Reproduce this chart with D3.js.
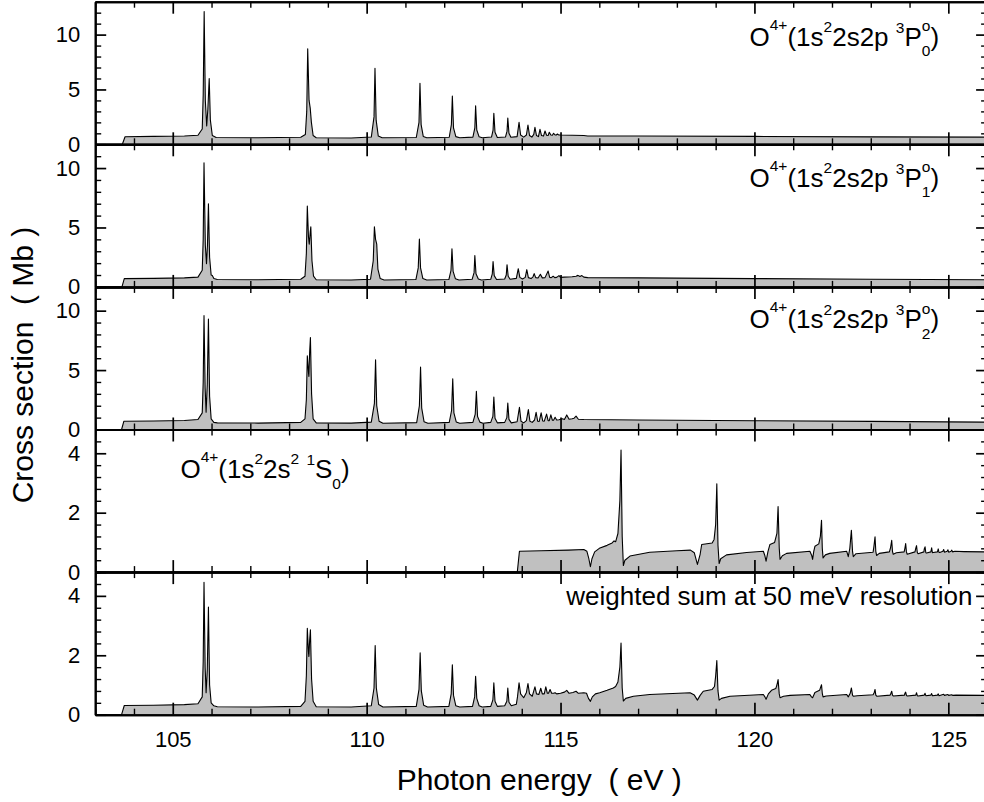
<!DOCTYPE html>
<html>
<head>
<meta charset="utf-8">
<script src="https://cdn.jsdelivr.net/npm/d3@7"></script>
<style>
  html, body { margin: 0; padding: 0; background: #fff; }
  svg { display: block; font-family: "Liberation Sans", Arial, Helvetica, sans-serif; }
  text { white-space: pre; }
</style>
</head>
<body>
<svg id="chart" width="984" height="802"></svg>
<script>
// ---- Photon energy axis ----
const energyDomain = [103, 126];
const energyMajorTicks = [105, 110, 115, 120, 125];
const energyMinorTicks = [103, 104, 106, 107, 108, 109, 111, 112, 113, 114, 116, 117, 118, 119, 121, 122, 123, 124, 126];

// ---- Cross-section axes, one per panel ----
const sigmaMax = [13, 12, 12, 4.8, 4.8];
const sigmaMajorTicks = [[0, 5, 10], [0, 5, 10], [0, 5, 10], [0, 2, 4], [0, 2, 4]];
const sigmaMinorTicks = [
  [1, 2, 3, 4, 6, 7, 8, 9, 11, 12, 13],
  [1, 2, 3, 4, 6, 7, 8, 9, 11, 12],
  [1, 2, 3, 4, 6, 7, 8, 9, 11, 12],
  [0.4, 0.8, 1.2, 1.6, 2.4, 2.8, 3.2, 3.6, 4.4, 4.8],
  [0.4, 0.8, 1.2, 1.6, 2.4, 2.8, 3.2, 3.6, 4.4, 4.8]
];

// ---- Spectra: [photon energy (eV), cross section (Mb)] ----
const sigma3P0 = [
  [103.0,0],[103.70,0],[103.77,0.69],[104.5,0.72],[105.3,0.76],[105.65,0.82],
  [105.76,1.4],[105.785,4.5],[105.81,12.1],[105.84,4.0],[105.875,1.67],
  [105.905,3.2],[105.94,6.0],[105.97,2.2],[106.02,0.8],[106.12,0.62],
  [107.2,0.6],[108.3,0.64],[108.42,0.9],[108.455,3.0],[108.48,8.7],[108.515,4.0],
  [108.545,3.3],[108.575,2.0],[108.62,0.8],[108.7,0.6],
  [109.6,0.58],[110.12,0.66],[110.19,2.5],[110.215,6.93],[110.245,2.2],[110.3,0.75],[110.4,0.6],
  [111.28,0.62],[111.35,2.0],[111.375,5.56],[111.405,1.8],[111.46,0.72],[111.55,0.6],
  [112.13,0.64],[112.185,1.8],[112.21,4.4],[112.24,1.5],[112.3,0.7],[112.4,0.6],
  [112.74,0.65],[112.79,1.5],[112.81,3.52],[112.84,1.3],[112.9,0.68],[112.98,0.6],
  [113.22,0.66],[113.26,1.3],[113.28,2.83],[113.31,1.1],[113.37,0.62],
  [113.58,0.66],[113.62,1.2],[113.64,2.4],[113.67,1.0],[113.72,0.64],
  [113.88,0.7],[113.93,2.0],[113.97,0.85],[114.05,0.65],
  [114.12,0.85],[114.16,1.76],[114.2,0.8],[114.26,0.66],
  [114.31,0.9],[114.34,1.55],[114.38,0.8],[114.43,0.7],
  [114.47,1.37],[114.51,0.8],[114.56,0.75],
  [114.6,1.21],[114.64,0.82],[114.68,0.8],
  [114.71,1.1],[114.75,0.85],[114.79,0.83],
  [114.82,1.0],[114.86,0.85],[114.89,0.85],
  [114.92,0.94],[114.95,0.86],[115.0,0.85],
  [115.3,0.83],[115.6,0.8],[115.7,0.76],[117,0.75],[120,0.72],[123,0.68],[126,0.65]
];

const sigma3P1 = [
  [103.0,0],[103.69,0],[103.75,0.7],[104.5,0.72],[105.3,0.76],[105.65,0.82],
  [105.76,1.4],[105.785,4.0],[105.806,10.45],[105.84,3.5],[105.87,1.95],
  [105.895,3.5],[105.92,7.0],[105.95,2.5],[105.99,1.0],[106.02,0.95],[106.06,0.7],[106.15,0.62],
  [107.2,0.6],[108.3,0.64],[108.41,0.9],[108.445,2.8],[108.47,6.8],[108.5,4.2],[108.52,3.6],
  [108.545,4.6],[108.56,5.06],[108.59,2.2],[108.63,0.9],[108.7,0.6],
  [109.6,0.58],[110.1,0.65],[110.17,2.2],[110.2,5.06],[110.23,4.0],[110.26,3.6],[110.29,1.5],[110.35,0.7],[110.45,0.58],
  [111.27,0.62],[111.33,1.6],[111.36,4.03],[111.39,1.6],[111.45,0.7],[111.55,0.58],
  [112.12,0.62],[112.175,1.4],[112.2,3.2],[112.23,1.3],[112.29,0.68],[112.38,0.58],
  [112.72,0.64],[112.77,1.2],[112.79,2.64],[112.82,1.1],[112.88,0.66],[112.96,0.58],
  [113.2,0.64],[113.24,1.1],[113.26,2.14],[113.29,0.95],[113.35,0.62],
  [113.56,0.66],[113.6,1.0],[113.62,1.87],[113.65,0.9],[113.7,0.64],
  [113.86,0.72],[113.91,1.53],[113.95,0.8],[114.02,0.66],
  [114.09,0.8],[114.13,1.45],[114.17,0.78],[114.24,0.7],
  [114.29,0.85],[114.32,1.12],[114.36,0.78],[114.42,0.75],
  [114.48,1.06],[114.53,0.76],[114.6,0.78],
  [114.68,1.33],[114.72,0.8],[114.76,0.78],
  [114.81,0.9],[114.85,0.78],[114.9,0.8],
  [114.96,0.95],[115.0,0.8],[115.1,0.82],[115.3,0.85],[115.4,0.9],[115.45,0.97],[115.5,0.88],
  [115.55,0.95],[115.6,0.82],[115.7,0.78],
  [117,0.76],[120,0.7],[123,0.65],[126,0.6]
];

const sigma3P2 = [
  [103.0,0],[103.68,0],[103.74,0.7],[104.5,0.72],[105.3,0.76],[105.65,0.84],
  [105.76,1.4],[105.785,4.0],[105.806,9.58],[105.835,3.5],[105.86,1.45],
  [105.89,3.8],[105.92,9.3],[105.95,2.8],[105.99,0.9],[106.06,0.6],[106.15,0.56],
  [107.2,0.54],[108.3,0.6],[108.41,0.9],[108.445,2.5],[108.47,6.2],[108.5,4.8],[108.51,4.47],
  [108.53,6.5],[108.55,7.74],[108.58,3.0],[108.62,0.9],[108.7,0.56],
  [109.6,0.54],[110.12,0.62],[110.2,2.2],[110.23,5.87],[110.26,2.0],[110.32,0.7],[110.42,0.52],
  [111.29,0.58],[111.36,2.0],[111.39,5.25],[111.42,1.8],[111.48,0.66],[111.58,0.52],
  [112.13,0.6],[112.19,1.6],[112.22,4.27],[112.25,1.4],[112.31,0.64],[112.4,0.52],
  [112.74,0.6],[112.8,1.3],[112.83,3.21],[112.86,1.1],[112.92,0.62],[113.0,0.52],
  [113.2,0.6],[113.255,1.1],[113.28,2.74],[113.31,0.95],[113.37,0.56],
  [113.56,0.6],[113.615,1.0],[113.64,2.23],[113.67,0.85],[113.73,0.56],
  [113.88,0.65],[113.94,1.87],[113.98,0.7],[114.05,0.56],
  [114.12,0.75],[114.17,1.68],[114.21,0.7],[114.27,0.6],
  [114.33,0.8],[114.37,1.45],[114.41,0.7],[114.45,0.68],
  [114.5,1.4],[114.54,0.72],[114.58,0.7],
  [114.64,1.3],[114.68,0.75],[114.71,0.74],
  [114.75,1.23],[114.79,0.78],[114.82,0.78],
  [114.86,1.03],[114.9,0.8],[114.96,0.82],[115.05,0.9],[115.1,0.84],[115.16,1.23],[115.22,0.86],
  [115.3,0.9],[115.35,0.95],[115.4,1.12],[115.46,0.86],[115.6,0.84],
  [117,0.8],[120,0.74],[123,0.68],[126,0.62]
];

const sigma1S0 = [
  [103.0,0],[113.885,0],[113.94,0.7],[114.5,0.72],[115.2,0.74],[115.6,0.76],
  [115.68,0.7],[115.73,0.45],[115.77,0.18],[115.81,0.45],[115.88,0.68],[116.0,0.8],[116.2,0.9],
  [116.33,0.98],[116.38,1.05],[116.42,1.02],[116.48,1.3],[116.53,2.4],[116.56,4.11],[116.59,1.2],
  [116.62,0.22],[116.66,0.4],[116.79,0.54],[117.3,0.67],
  [118.0,0.72],[118.35,0.74],[118.45,0.65],[118.53,0.26],[118.6,0.6],[118.64,0.93],[118.91,0.98],
  [118.96,1.1],[119.0,1.6],[119.03,2.97],[119.06,0.9],[119.09,0.29],[119.13,0.45],[119.28,0.58],
  [119.8,0.66],[120.23,0.7],
  [120.27,0.55],[120.3,0.37],[120.35,0.7],[120.4,0.93],[120.52,1.0],[120.58,1.3],[120.61,2.21],
  [120.64,0.8],[120.66,0.43],[120.72,0.55],[120.83,0.63],[121.43,0.7],
  [121.48,0.55],[121.5,0.43],[121.53,0.7],[121.56,0.87],[121.66,0.95],[121.7,1.2],[121.73,1.74],
  [121.75,0.8],[121.77,0.48],[121.83,0.58],[121.94,0.63],[122.38,0.7],
  [122.42,0.52],[122.46,0.8],[122.5,1.41],[122.53,0.7],[122.55,0.52],[122.62,0.62],[123.06,0.67],
  [123.08,0.85],[123.11,1.19],[123.13,0.7],[123.15,0.56],[123.22,0.63],[123.48,0.68],
  [123.51,0.82],[123.54,1.07],[123.56,0.7],[123.58,0.6],[123.66,0.65],[123.86,0.68],
  [123.88,0.8],[123.9,0.96],[123.92,0.68],[123.94,0.6],[124.14,0.68],
  [124.16,0.8],[124.18,0.89],[124.2,0.66],[124.22,0.62],[124.37,0.68],
  [124.38,0.78],[124.4,0.85],[124.42,0.65],[124.44,0.64],[124.55,0.68],[124.57,0.82],[124.59,0.65],
  [124.61,0.66],[124.72,0.68],[124.74,0.78],[124.76,0.66],[124.78,0.66],
  [124.86,0.7],[124.88,0.76],[124.9,0.67],[124.97,0.7],[124.99,0.75],[125.01,0.67],[125.07,0.7],
  [125.09,0.74],[125.11,0.68],[125.17,0.7],[125.4,0.69],[126,0.68]
];

const sigmaWeighted = [
  [103.0,0],[103.68,0],[103.75,0.31],[104.5,0.32],[105.3,0.34],[105.65,0.37],
  [105.76,0.6],[105.785,1.8],[105.806,4.46],[105.835,1.6],[105.86,0.74],
  [105.89,1.5],[105.92,3.62],[105.95,1.0],[105.99,0.4],[106.06,0.3],[106.15,0.27],
  [107.2,0.26],[108.3,0.28],[108.41,0.45],[108.445,1.3],[108.47,2.91],[108.5,2.1],[108.51,1.96],
  [108.53,2.5],[108.55,2.86],[108.58,1.2],[108.62,0.45],[108.7,0.27],
  [109.6,0.26],[110.12,0.3],[110.19,0.9],[110.22,2.33],[110.25,0.9],[110.31,0.34],[110.42,0.26],
  [111.28,0.28],[111.35,0.85],[111.38,2.08],[111.41,0.8],[111.47,0.32],[111.57,0.26],
  [112.12,0.28],[112.18,0.7],[112.21,1.68],[112.24,0.65],[112.3,0.3],[112.4,0.26],
  [112.73,0.28],[112.785,0.6],[112.81,1.29],[112.84,0.55],[112.9,0.3],[112.98,0.26],
  [113.2,0.28],[113.255,0.5],[113.28,1.07],[113.31,0.45],[113.37,0.28],
  [113.56,0.3],[113.615,0.45],[113.64,0.9],[113.67,0.42],[113.73,0.3],
  [113.86,0.35],[113.89,0.6],[113.93,1.07],[113.97,0.7],[114.05,0.57],
  [114.12,0.75],[114.16,1.05],[114.2,0.7],[114.27,0.62],
  [114.31,0.8],[114.34,0.94],[114.38,0.7],[114.44,0.68],
  [114.49,0.89],[114.53,0.7],[114.58,0.7],
  [114.62,0.94],[114.66,0.72],[114.69,0.72],
  [114.73,0.85],[114.77,0.72],[114.82,0.72],
  [114.86,0.74],[114.9,0.7],[115.0,0.72],[115.1,0.76],[115.16,0.82],[115.22,0.72],[115.32,0.75],
  [115.4,0.79],[115.46,0.72],[115.6,0.74],[115.67,0.72],
  [115.72,0.55],[115.77,0.45],[115.82,0.6],[115.9,0.7],[116.01,0.74],[116.2,0.82],[116.36,0.9],
  [116.42,0.95],[116.48,1.1],[116.53,1.6],[116.56,2.41],[116.59,0.9],[116.62,0.46],[116.68,0.55],
  [116.88,0.62],[117.3,0.68],
  [118.34,0.74],[118.45,0.66],[118.53,0.49],[118.6,0.65],[118.68,0.79],[118.91,0.85],[118.97,0.95],
  [119.0,1.3],[119.03,1.82],[119.06,0.8],[119.09,0.49],[119.15,0.55],[119.37,0.62],[120.23,0.68],
  [120.27,0.6],[120.3,0.52],[120.36,0.7],[120.44,0.82],[120.55,0.88],[120.58,1.0],[120.61,1.18],
  [120.64,0.7],[120.66,0.57],[120.75,0.62],[120.92,0.65],[121.43,0.68],
  [121.47,0.6],[121.5,0.57],[121.56,0.75],[121.68,0.82],[121.73,1.01],[121.75,0.72],[121.77,0.6],
  [121.85,0.63],[122.38,0.68],
  [122.42,0.6],[122.47,0.72],[122.5,0.9],[122.53,0.66],[122.55,0.62],[122.65,0.64],[123.06,0.67],
  [123.09,0.75],[123.11,0.85],[123.13,0.66],[123.16,0.62],[123.5,0.66],
  [123.52,0.72],[123.54,0.79],[123.56,0.66],[123.58,0.63],[123.87,0.66],
  [123.88,0.72],[123.9,0.76],[123.92,0.65],[123.94,0.63],[124.16,0.66],[124.18,0.74],[124.2,0.64],
  [124.22,0.63],[124.38,0.66],[124.4,0.72],[124.42,0.64],[124.55,0.66],[124.57,0.71],[124.59,0.64],
  [124.72,0.66],[124.74,0.7],[124.76,0.64],
  [124.88,0.69],[124.9,0.65],[124.99,0.68],[125.01,0.65],[125.09,0.67],[125.11,0.65],[125.2,0.66],[126,0.65]
];

// ---- Panel captions: [text, vertical shift] (negative = raised, positive = lowered) ----
const caption3P0 = [["O",0],["4+",-16],["(1s",0],["2",-13.5],["2s2p ",0],["3",-13],["P",0],["o",-14.5],["0",10.7,"stack"],[")",0]];
const caption3P1 = [["O",0],["4+",-16],["(1s",0],["2",-13.5],["2s2p ",0],["3",-13],["P",0],["o",-14.5],["1",10.7,"stack"],[")",0]];
const caption3P2 = [["O",0],["4+",-16],["(1s",0],["2",-13.5],["2s2p ",0],["3",-13],["P",0],["o",-14.5],["2",10.7,"stack"],[")",0]];
const caption1S0 = [["O",0],["4+",-16],["(1s",0],["2",-13.5],["2s",0],["2",-13.5],[" ",0],["1",-13],["S",0],["0",10.7],[")",0]];
const captionSum = [["weighted sum at 50 meV resolution",0]];

// ---- Layout ----
const svg = d3.select("#chart");
const plotLeft = 95.2, plotRight = 987.1, plotTop = 1.7, panelH = 142.6;
const bigFont = 26, smallFont = 15.5;

const x = d3.scaleLinear().domain(energyDomain).range([plotLeft, plotRight]);

const panels = [
  { data: sigma3P0, caption: caption3P0, cx: 749.5, cy: 45.7 },
  { data: sigma3P1, caption: caption3P1, cx: 749.5, cy: 186.6 },
  { data: sigma3P2, caption: caption3P2, cx: 749.5, cy: 328.2 },
  { data: sigma1S0, caption: caption1S0, cx: 180.4, cy: 477.8 },
  { data: sigmaWeighted, caption: captionSum, cx: 566.3, cy: 605 }
];

const plotLayer = svg.append("g");
const axisLayer = svg.append("g");

function tidyAxis(sel, tickWidth) {
  sel.attr("font-family", null).attr("font-size", null);
  sel.select(".domain").attr("stroke", "#000").attr("stroke-width", 2);
  sel.selectAll(".tick line").attr("stroke", "#000").attr("stroke-width", tickWidth);
  sel.selectAll(".tick text").attr("fill", "#000").attr("font-size", 22);
}

function drawCaption(g, parts, x0, y0) {
  const t = g.append("text").attr("x", x0).attr("y", y0)
    .attr("font-size", bigFont).attr("fill", "#000");
  let cur = 0;
  parts.forEach(([str, shift, mode]) => {
    const ts = t.append("tspan").text(str)
      .attr("dy", shift - cur)
      .attr("font-size", shift === 0 ? bigFont : smallFont);
    if (mode === "stack") ts.attr("dx", -0.556 * smallFont);
    cur = shift;
  });
}

panels.forEach((p, i) => {
  const top = plotTop + i * panelH;
  const bottom = top + panelH;
  const y = d3.scaleLinear().domain([0, sigmaMax[i]]).range([bottom, top]);

  const area = d3.area().x(d => x(d[0])).y0(y(0)).y1(d => y(d[1]));
  const line = d3.line().x(d => x(d[0])).y(d => y(d[1]));

  plotLayer.append("path").datum(p.data).attr("d", area).attr("fill", "#c0c0c0");
  plotLayer.append("path").datum(p.data).attr("d", line)
    .attr("fill", "none").attr("stroke", "#000")
    .attr("stroke-width", 1.1).attr("stroke-linejoin", "round");

  drawCaption(plotLayer, p.caption, p.cx, p.cy);

  const isLast = i === panels.length - 1;

  // bottom energy axis (ticks pointing inward)
  axisLayer.append("g").attr("transform", `translate(0,${bottom})`)
    .call(d3.axisBottom(x).tickValues(energyMinorTicks).tickSize(-6).tickSizeOuter(0).tickFormat(""))
    .call(s => tidyAxis(s, 1.4));
  axisLayer.append("g").attr("transform", `translate(0,${bottom})`)
    .call(d3.axisBottom(x).tickValues(energyMajorTicks).tickSize(-12).tickSizeOuter(0)
      .tickPadding(16.5).tickFormat(isLast ? d3.format("d") : ""))
    .call(s => tidyAxis(s, 1.7));

  // top energy axis
  axisLayer.append("g").attr("transform", `translate(0,${top})`)
    .call(d3.axisTop(x).tickValues(energyMinorTicks).tickSize(-6).tickSizeOuter(0).tickFormat(""))
    .call(s => tidyAxis(s, 1.4));
  axisLayer.append("g").attr("transform", `translate(0,${top})`)
    .call(d3.axisTop(x).tickValues(energyMajorTicks).tickSize(-12).tickSizeOuter(0).tickFormat(""))
    .call(s => tidyAxis(s, 1.7));

  // left cross-section axis
  axisLayer.append("g").attr("transform", `translate(${plotLeft},0)`)
    .call(d3.axisLeft(y).tickValues(sigmaMinorTicks[i]).tickSize(-6).tickSizeOuter(0).tickFormat(""))
    .call(s => tidyAxis(s, 1.4));
  axisLayer.append("g").attr("transform", `translate(${plotLeft},0)`)
    .call(d3.axisLeft(y).tickValues(sigmaMajorTicks[i]).tickSize(-11).tickSizeOuter(0)
      .tickPadding(15).tickFormat(d3.format("d")))
    .call(s => tidyAxis(s, 1.7));

  // right cross-section axis
  axisLayer.append("g").attr("transform", `translate(${plotRight},0)`)
    .call(d3.axisRight(y).tickValues(sigmaMinorTicks[i]).tickSize(-6).tickSizeOuter(0).tickFormat(""))
    .call(s => tidyAxis(s, 1.4));
  axisLayer.append("g").attr("transform", `translate(${plotRight},0)`)
    .call(d3.axisRight(y).tickValues(sigmaMajorTicks[i]).tickSize(-11).tickSizeOuter(0).tickFormat(""))
    .call(s => tidyAxis(s, 1.7));
});

// axis titles
svg.append("text")
  .attr("x", (plotLeft + 983.3) / 2).attr("y", 790)
  .attr("text-anchor", "middle").attr("font-size", 30).attr("fill", "#000")
  .text("Photon energy  ( eV )");

svg.append("text")
  .attr("transform", "translate(33,365) rotate(-90)")
  .attr("text-anchor", "middle").attr("font-size", 30).attr("fill", "#000")
  .text("Cross section  ( Mb )");
</script>
</body>
</html>
